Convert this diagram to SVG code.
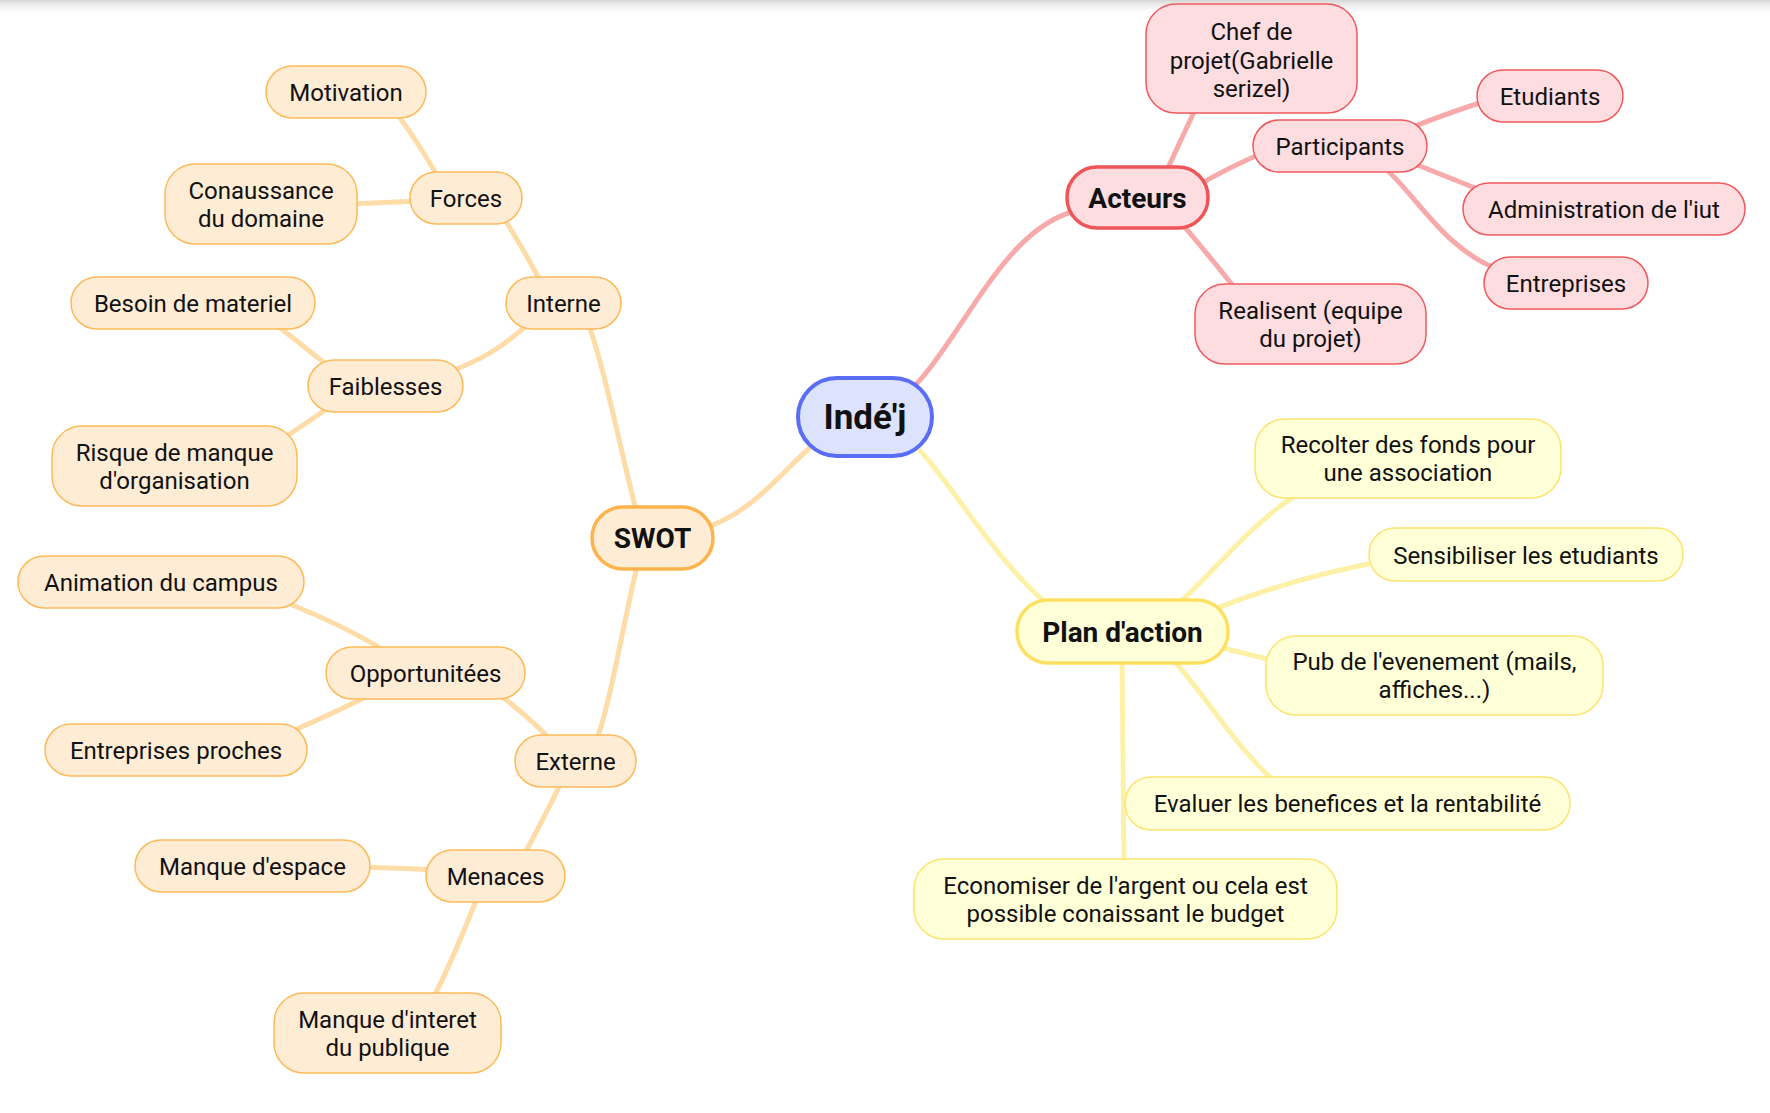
<svg xmlns="http://www.w3.org/2000/svg" width="1770" height="1113" viewBox="0 0 1770 1113">
  <defs>
    <linearGradient id="topShade" x1="0" y1="0" x2="0" y2="1">
      <stop offset="0" stop-color="#d6d6d6"/>
      <stop offset="1" stop-color="#ffffff" stop-opacity="0"/>
    </linearGradient>
  </defs>
  <style>
    text { font-family: Roboto, "Liberation Sans", sans-serif; fill: #111; text-anchor: middle; }
    .t { font-size: 24px; }
    .tb { font-size: 28px; font-weight: bold; }
    .troot { font-size: 35px; font-weight: bold; }
    .link { fill: none; stroke-width: 5; stroke-linecap: round; }
    .lr { stroke: #f8aaaa; }
    .lo { stroke: #fedca8; }
    .ly { stroke: #fdf1a8; }
    .nr rect { fill: #fddde0; stroke: #f0595d; stroke-width: 1.5; }
    .no rect { fill: #feecd5; stroke: #fdba58; stroke-width: 1.5; }
    .ny rect { fill: #ffffd8; stroke: #fce46e; stroke-width: 1.5; }
    .main rect { stroke-width: 3.5; }
    .nr.main rect { stroke: #ee5458; }
    .no.main rect { stroke: #fdb44c; }
    .ny.main rect { stroke: #fde062; }
    .root rect { fill: #dde3fd; stroke: #5a6df5; stroke-width: 4; }
  </style>

  <rect x="0" y="0" width="1770" height="1113" fill="#ffffff"/>
  <rect x="0" y="0" width="1770" height="16" fill="url(#topShade)"/>

  <!-- branch connectors -->
  <g id="connectors">
    <!-- root branches -->
    <path class="link lr" d="M 900,400 C 960,350 1000,225 1080,210"/>
    <path class="link lo" d="M 830,430 C 780,470 760,510 700,530"/>
    <path class="link ly" d="M 900,430 C 950,475 990,560 1060,615"/>

    <!-- Acteurs -->
    <path class="link lr" d="M 1160,185 C 1172,160 1185,130 1200,100"/>
    <path class="link lr" d="M 1190,190 C 1215,175 1240,162 1270,150"/>
    <path class="link lr" d="M 1175,215 C 1195,240 1215,262 1240,295"/>
    <path class="link lr" d="M 1400,132 C 1430,120 1455,110 1490,100"/>
    <path class="link lr" d="M 1400,158 C 1430,170 1455,180 1485,192"/>
    <path class="link lr" d="M 1385,168 C 1420,200 1445,250 1500,270"/>

    <!-- SWOT -->
    <path class="link lo" d="M 640,525 C 622,460 605,365 585,315"/>
    <path class="link lo" d="M 640,555 C 625,610 612,700 595,745"/>
    <path class="link lo" d="M 545,290 C 532,265 518,240 500,212"/>
    <path class="link lo" d="M 440,180 C 425,155 410,130 390,105"/>
    <path class="link lo" d="M 420,201 C 400,202 375,203 350,204"/>
    <path class="link lo" d="M 535,318 C 505,345 485,360 440,375"/>
    <path class="link lo" d="M 340,375 C 320,360 300,343 270,320"/>
    <path class="link lo" d="M 340,400 C 320,413 305,425 280,440"/>
    <path class="link lo" d="M 560,750 C 545,733 530,718 500,695"/>
    <path class="link lo" d="M 400,660 C 360,635 330,620 280,600"/>
    <path class="link lo" d="M 380,690 C 350,705 325,717 290,732"/>
    <path class="link lo" d="M 565,775 C 550,805 538,830 520,862"/>
    <path class="link lo" d="M 440,870 C 415,869 395,868 360,867"/>
    <path class="link lo" d="M 480,890 C 465,930 450,965 430,1005"/>

    <!-- Plan d'action -->
    <path class="link ly" d="M 1160,620 C 1200,590 1250,520 1305,490"/>
    <path class="link ly" d="M 1200,615 C 1260,590 1320,572 1390,560"/>
    <path class="link ly" d="M 1210,645 C 1235,651 1255,656 1280,662"/>
    <path class="link ly" d="M 1165,650 C 1210,700 1240,755 1285,790"/>
    <path class="link ly" d="M 1122,650 C 1122,720 1124,800 1124,870"/>
  </g>

  <!-- central topic -->
  <g id="n-root" class="root">
    <rect x="798" y="378" width="134" height="78" rx="39"/>
    <text class="troot" x="865" y="429">Indé'j</text>
  </g>

  <!-- Acteurs branch -->
  <g id="n-acteurs" class="nr main">
    <rect x="1067" y="167" width="141" height="61" rx="30"/>
    <text class="tb" x="1137.5" y="208">Acteurs</text>
  </g>
  <g id="n-chef" class="nr">
    <rect x="1146" y="4" width="211" height="109" rx="30"/>
    <text class="t" x="1251.5" y="40">Chef de<tspan x="1251.5" dy="28.5">projet(Gabrielle</tspan><tspan x="1251.5" dy="28.5">serizel)</tspan></text>
  </g>
  <g id="n-participants" class="nr">
    <rect x="1253" y="120" width="174" height="52" rx="26"/>
    <text class="t" x="1340" y="155">Participants</text>
  </g>
  <g id="n-etudiants" class="nr">
    <rect x="1477" y="70" width="146" height="52" rx="26"/>
    <text class="t" x="1550" y="105">Etudiants</text>
  </g>
  <g id="n-administration" class="nr">
    <rect x="1463" y="183" width="282" height="52" rx="26"/>
    <text class="t" x="1604" y="218">Administration de l'iut</text>
  </g>
  <g id="n-entreprises" class="nr">
    <rect x="1484" y="257" width="164" height="52" rx="26"/>
    <text class="t" x="1566" y="292">Entreprises</text>
  </g>
  <g id="n-realisent" class="nr">
    <rect x="1195" y="284" width="231" height="80" rx="30"/>
    <text class="t" x="1310.5" y="319">Realisent (equipe<tspan x="1310.5" dy="28">du projet)</tspan></text>
  </g>

  <!-- Plan d'action branch -->
  <g id="n-plan" class="ny main">
    <rect x="1017" y="600" width="211" height="63" rx="31"/>
    <text class="tb" x="1122.5" y="642">Plan d'action</text>
  </g>
  <g id="n-recolter" class="ny">
    <rect x="1255" y="419" width="306" height="79" rx="30"/>
    <text class="t" x="1408" y="453">Recolter des fonds pour<tspan x="1408" dy="28">une association</tspan></text>
  </g>
  <g id="n-sensibiliser" class="ny">
    <rect x="1369" y="528" width="314" height="53" rx="26"/>
    <text class="t" x="1526" y="563.5">Sensibiliser les etudiants</text>
  </g>
  <g id="n-pub" class="ny">
    <rect x="1266" y="636" width="337" height="79" rx="30"/>
    <text class="t" x="1434.5" y="670">Pub de l'evenement (mails,<tspan x="1434.5" dy="28">affiches...)</tspan></text>
  </g>
  <g id="n-evaluer" class="ny">
    <rect x="1125" y="777" width="445" height="53" rx="26"/>
    <text class="t" x="1347.5" y="812">Evaluer les benefices et la rentabilité</text>
  </g>
  <g id="n-economiser" class="ny">
    <rect x="914" y="859" width="423" height="80" rx="30"/>
    <text class="t" x="1125.5" y="894">Economiser de l'argent ou cela est<tspan x="1125.5" dy="28">possible conaissant le budget</tspan></text>
  </g>

  <!-- SWOT branch -->
  <g id="n-swot" class="no main">
    <rect x="592" y="507" width="121" height="62" rx="31"/>
    <text class="tb" x="652.5" y="548">SWOT</text>
  </g>
  <g id="n-interne" class="no">
    <rect x="506" y="277" width="115" height="52" rx="26"/>
    <text class="t" x="563.5" y="312">Interne</text>
  </g>
  <g id="n-forces" class="no">
    <rect x="410" y="172" width="112" height="52" rx="26"/>
    <text class="t" x="466" y="207">Forces</text>
  </g>
  <g id="n-motivation" class="no">
    <rect x="266" y="66" width="160" height="52" rx="26"/>
    <text class="t" x="346" y="101">Motivation</text>
  </g>
  <g id="n-conaussance" class="no">
    <rect x="165" y="164" width="192" height="80" rx="30"/>
    <text class="t" x="261" y="199">Conaussance<tspan x="261" dy="28">du domaine</tspan></text>
  </g>
  <g id="n-faiblesses" class="no">
    <rect x="308" y="360" width="155" height="52" rx="26"/>
    <text class="t" x="385.5" y="395">Faiblesses</text>
  </g>
  <g id="n-besoin" class="no">
    <rect x="71" y="277" width="244" height="52" rx="26"/>
    <text class="t" x="193" y="312">Besoin de materiel</text>
  </g>
  <g id="n-risque" class="no">
    <rect x="52" y="426" width="245" height="80" rx="30"/>
    <text class="t" x="174.5" y="461">Risque de manque<tspan x="174.5" dy="28">d'organisation</tspan></text>
  </g>
  <g id="n-externe" class="no">
    <rect x="515" y="735" width="121" height="52" rx="26"/>
    <text class="t" x="575.5" y="770">Externe</text>
  </g>
  <g id="n-opportunitees" class="no">
    <rect x="326" y="647" width="199" height="52" rx="26"/>
    <text class="t" x="425.5" y="682">Opportunitées</text>
  </g>
  <g id="n-animation" class="no">
    <rect x="18" y="556" width="286" height="52" rx="26"/>
    <text class="t" x="161" y="591">Animation du campus</text>
  </g>
  <g id="n-entreprises-proches" class="no">
    <rect x="45" y="724" width="262" height="52" rx="26"/>
    <text class="t" x="176" y="759">Entreprises proches</text>
  </g>
  <g id="n-menaces" class="no">
    <rect x="426" y="850" width="139" height="52" rx="26"/>
    <text class="t" x="495.5" y="885">Menaces</text>
  </g>
  <g id="n-espace" class="no">
    <rect x="135" y="840" width="235" height="52" rx="26"/>
    <text class="t" x="252.5" y="875">Manque d'espace</text>
  </g>
  <g id="n-interet" class="no">
    <rect x="274" y="993" width="227" height="80" rx="30"/>
    <text class="t" x="387.5" y="1028">Manque d'interet<tspan x="387.5" dy="28">du publique</tspan></text>
  </g>
</svg>
